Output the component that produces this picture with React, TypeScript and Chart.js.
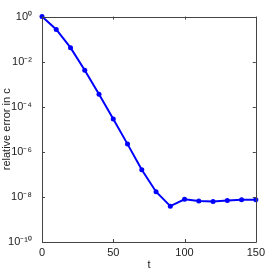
import React, { useEffect, useRef } from "react";
import { Chart, registerables } from "chart.js";

Chart.register(...registerables);

const tValues = [0, 10, 20, 30, 40, 50, 60, 70, 80, 90, 100, 110, 120, 130, 140, 150];
const errorValues = [
  1.0, 0.27, 0.042, 0.0042, 3.6e-4, 2.9e-5, 2.2e-6, 1.6e-7, 1.7e-8, 3.9e-9,
  7.8e-9, 6.6e-9, 6.2e-9, 6.9e-9, 7.4e-9, 7.4e-9,
];
const yTickValues = [1e-10, 1e-8, 1e-6, 1e-4, 1e-2, 1];
const xTickValues = [0, 50, 100, 150];

const SUP: Record<string, string> = {
  "-": "\u207B", "0": "\u2070", "1": "\u00B9", "2": "\u00B2", "3": "\u00B3",
  "4": "\u2074", "5": "\u2075", "6": "\u2076", "7": "\u2077", "8": "\u2078", "9": "\u2079",
};
function powLabel(v: number): string {
  const e = Math.round(Math.log10(v));
  return "10" + String(e).split("").map((c) => SUP[c] || c).join("");
}

const boxPlugin = {
  id: "boxTicks",
  afterDraw(chart: any) {
    const { ctx, chartArea: a, scales } = chart;
    ctx.save();
    ctx.strokeStyle = "#444";
    ctx.lineWidth = 1;
    ctx.beginPath();
    ctx.rect(Math.round(a.left) + 0.5, Math.round(a.top) + 0.5, Math.round(a.right - a.left), Math.round(a.bottom - a.top));
    ctx.stroke();
    ctx.beginPath();
    for (const v of yTickValues) {
      const y = Math.round(scales.y.getPixelForValue(v)) + 0.5;
      ctx.moveTo(a.left, y);
      ctx.lineTo(a.left + 3, y);
      ctx.moveTo(a.right, y);
      ctx.lineTo(a.right - 3, y);
    }
    for (const v of xTickValues) {
      const x = Math.round(scales.x.getPixelForValue(v)) + 0.5;
      ctx.moveTo(x, a.bottom);
      ctx.lineTo(x, a.bottom - 3);
      ctx.moveTo(x, a.top);
      ctx.lineTo(x, a.top + 3);
    }
    ctx.stroke();
    ctx.restore();
  },
};

export default function App() {
  const ref = useRef<HTMLCanvasElement>(null);
  useEffect(() => {
    document.body.style.margin = "0";
    const chart = new Chart(ref.current!, {
      type: "line",
      data: {
        labels: tValues,
        datasets: [
          {
            data: tValues.map((t, i) => ({ x: t, y: errorValues[i] })),
            borderColor: "#0000ff",
            backgroundColor: "#0000ff",
            borderWidth: 2,
            pointRadius: 2.5,
            pointBorderWidth: 0,
            clip: false,
          } as any,
        ],
      },
      options: {
        animation: false,
        responsive: false,
        layout: { padding: { top: 15, right: 11, left: 0, bottom: 0 } },
        plugins: { legend: { display: false }, tooltip: { enabled: false } },
        scales: {
          x: {
            type: "linear",
            min: 0,
            max: 150,
            afterBuildTicks: (s: any) => {
              s.ticks = xTickValues.map((v) => ({ value: v }));
            },
            afterFit: (s: any) => {
              s.height = 30;
            },
            grid: { display: false, drawTicks: false },
            border: { display: false },
            ticks: {
              color: "#222",
              padding: 4,
              maxRotation: 0,
              font: { family: "Liberation Sans", size: 11 },
            },
            title: {
              display: true,
              text: "t",
              color: "#222",
              padding: 0,
              font: { family: "Liberation Sans", size: 11 },
            },
          },
          y: {
            type: "logarithmic",
            min: 1e-10,
            max: 1,
            afterBuildTicks: (s: any) => {
              s.ticks = yTickValues.map((v) => ({ value: v, major: true }));
            },
            afterFit: (s: any) => {
              s.width = 42;
            },
            grid: { display: false, drawTicks: false },
            border: { display: false },
            ticks: {
              color: "#222",
              padding: 10,
              autoSkip: false,
              font: { family: "Liberation Sans", size: 11 },
              callback: (v: any) => powLabel(Number(v)),
            },
            title: {
              display: true,
              text: "relative error in c",
              color: "#222",
              padding: 0,
              font: { family: "Liberation Sans", size: 11 },
            },
          },
        },
      },
      plugins: [boxPlugin],
    });
    return () => chart.destroy();
  }, []);
  return (
    <div style={{ position: "absolute", left: 0, top: 0, width: 269, height: 272 }}>
      <canvas ref={ref} width={269} height={272} style={{ width: 269, height: 272 }} />
    </div>
  );
}
